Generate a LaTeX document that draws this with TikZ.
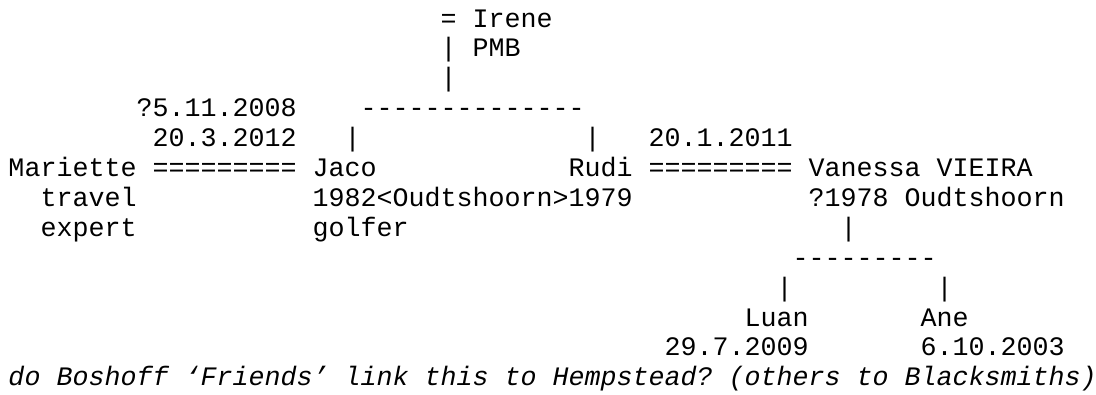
\documentclass[tikz,border=0pt]{standalone}
\usepackage{fontspec}
\setmonofont{Liberation Mono}
\begin{document}
\begin{tikzpicture}[x=1pt,y=1pt,
  txt/.style={anchor=base west,inner sep=0pt,outer sep=0pt,font=\ttfamily\fontsize{26.67pt}{30pt}\selectfont,text=black},
  note/.style={txt,font=\ttfamily\itshape\fontsize{26.67pt}{30pt}\selectfont}]
\useasboundingbox[fill=white] (0,0) rectangle (1096,-394);
\def\cw{16}
\def\lh{29.9}
\def\ox{8.5}
\def\oy{27}
% row 0-2
\node[txt] (eqirene) at ({\ox+\cw*27},{-\oy-\lh*0}) {=};
\node[txt] (irene)   at ({\ox+\cw*29},{-\oy-\lh*0}) {Irene};
\node[txt] (bartop1) at ({\ox+\cw*27},{-\oy-\lh*1}) {|};
\node[txt] (pmb)     at ({\ox+\cw*29},{-\oy-\lh*1}) {PMB};
\node[txt] (bartop2) at ({\ox+\cw*27},{-\oy-\lh*2}) {|};
% row 3
\node[txt] (mdate1)  at ({\ox+\cw*8},{-\oy-\lh*3}) {?5.11.2008};
\node[txt] (dashtop) at ({\ox+\cw*22},{-\oy-\lh*3}) {--------------};
% row 4
\node[txt] (mdate2)  at ({\ox+\cw*9},{-\oy-\lh*4}) {20.3.2012};
\node[txt] (barjaco) at ({\ox+\cw*21},{-\oy-\lh*4}) {|};
\node[txt] (barrudi) at ({\ox+\cw*36},{-\oy-\lh*4}) {|};
\node[txt] (vdate)   at ({\ox+\cw*40},{-\oy-\lh*4}) {20.1.2011};
% row 5
\node[txt] (mariette) at ({\ox+\cw*0},{-\oy-\lh*5}) {Mariette};
\node[txt] (eqleft)   at ({\ox+\cw*9},{-\oy-\lh*5}) {=========};
\node[txt] (jaco)     at ({\ox+\cw*19},{-\oy-\lh*5}) {Jaco};
\node[txt] (rudi)     at ({\ox+\cw*35},{-\oy-\lh*5}) {Rudi};
\node[txt] (eqright)  at ({\ox+\cw*40},{-\oy-\lh*5}) {=========};
\node[txt] (vanessa)  at ({\ox+\cw*50},{-\oy-\lh*5}) {Vanessa VIEIRA};
% row 6
\node[txt] (travel)   at ({\ox+\cw*2},{-\oy-\lh*6}) {travel};
\node[txt] (jrinfo)   at ({\ox+\cw*19},{-\oy-\lh*6}) {1982<Oudtshoorn>1979};
\node[txt] (vinfo)    at ({\ox+\cw*50},{-\oy-\lh*6}) {?1978 Oudtshoorn};
% row 7
\node[txt] (expert)   at ({\ox+\cw*2},{-\oy-\lh*7}) {expert};
\node[txt] (golfer)   at ({\ox+\cw*19},{-\oy-\lh*7}) {golfer};
\node[txt] (barvan)   at ({\ox+\cw*52},{-\oy-\lh*7}) {|};
% row 8
\node[txt] (dashbot)  at ({\ox+\cw*49},{-\oy-\lh*8}) {---------};
% row 9
\node[txt] (barluan)  at ({\ox+\cw*48},{-\oy-\lh*9}) {|};
\node[txt] (barane)   at ({\ox+\cw*58},{-\oy-\lh*9}) {|};
% row 10
\node[txt] (luan)     at ({\ox+\cw*46},{-\oy-\lh*10}) {Luan};
\node[txt] (ane)      at ({\ox+\cw*57},{-\oy-\lh*10}) {Ane};
% row 11
\node[txt] (luandate) at ({\ox+\cw*41},{-\oy-\lh*11}) {29.7.2009};
\node[txt] (anedate)  at ({\ox+\cw*57},{-\oy-\lh*11}) {6.10.2003};
% row 12
\node[note] (remark)  at ({\ox+\cw*0},{-\oy-\lh*12}) {do Boshoff ‘Friends’ link this to Hempstead? (others to Blacksmiths)};
\end{tikzpicture}
\end{document}
